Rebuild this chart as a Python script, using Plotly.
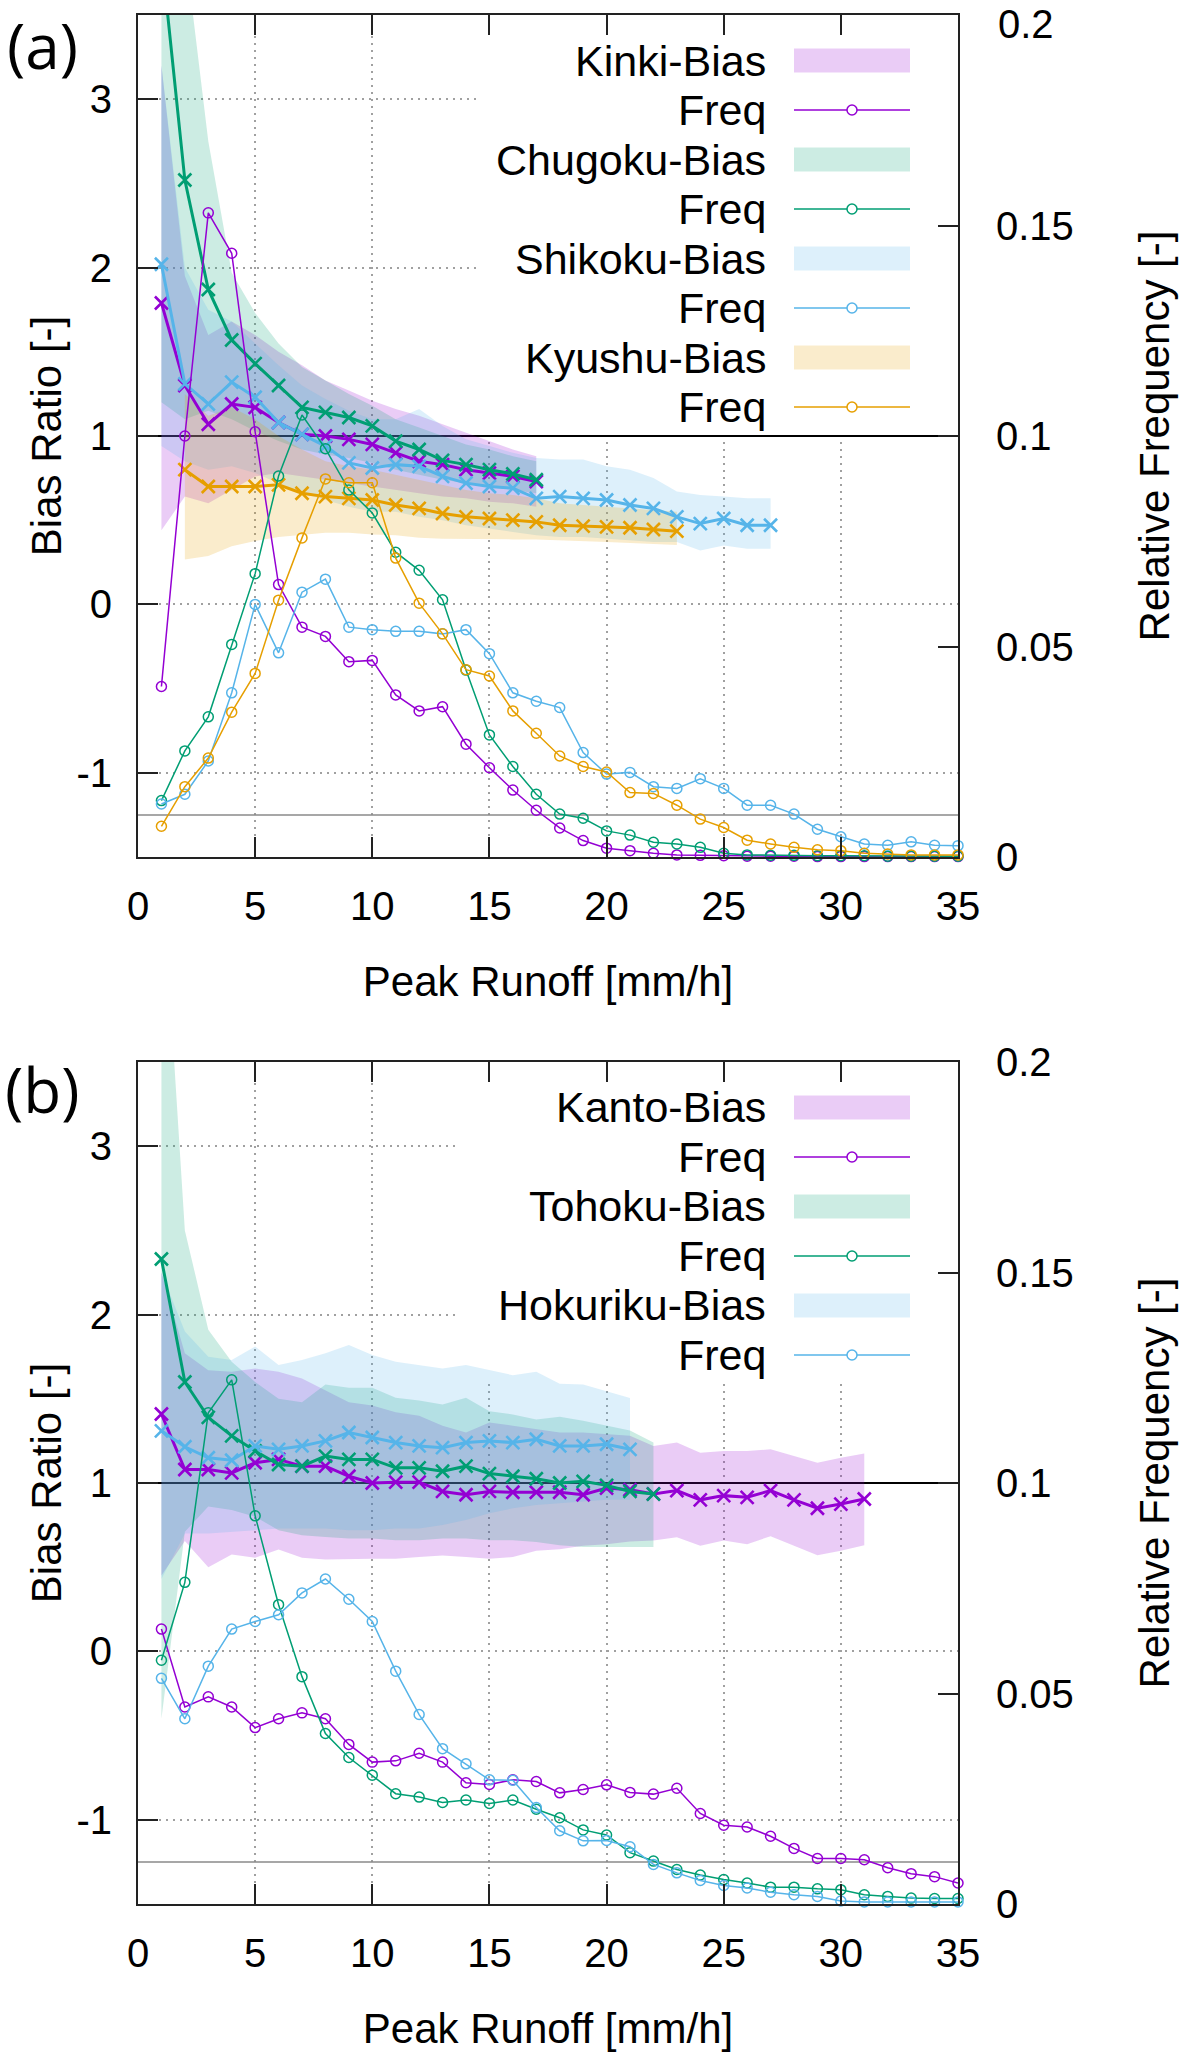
import plotly.graph_objects as go

# ---------------- data ----------------
X35 = list(range(1, 36))
XTICKS = [0, 5, 10, 15, 20, 25, 30, 35]
BIAS_TICKS = [-1, 0, 1, 2, 3]
BIAS_TICKTEXT = ["-1", "0", "1", "2", "3"]
FREQ_TICKS = [0, 0.05, 0.1, 0.15, 0.2]
FREQ_TICKTEXT = ["0", "0.05", "0.1", "0.15", "0.2"]

# Panel (a)
kinki_x = list(range(1, 18))
kinki_bias = [1.79, 1.30, 1.07, 1.19, 1.17, 1.08, 1.01, 1.00, 0.98, 0.95, 0.90, 0.85, 0.83, 0.80, 0.78, 0.76, 0.73]
kinki_hi = [3.2, 1.95, 1.6, 1.68, 1.6, 1.5, 1.42, 1.33, 1.27, 1.21, 1.16, 1.12, 1.07, 1.02, 0.97, 0.92, 0.88]
kinki_lo = [0.44, 0.64, 0.60, 0.68, 0.76, 0.78, 0.76, 0.74, 0.72, 0.70, 0.68, 0.66, 0.64, 0.63, 0.61, 0.60, 0.58]
kinki_freq = [0.0405, 0.100, 0.153, 0.1434, 0.101, 0.0647, 0.0546, 0.0524, 0.0464, 0.0467, 0.0385, 0.0347,
              0.0357, 0.0268, 0.0212, 0.0159, 0.0111, 0.0069, 0.0039, 0.0021, 0.0015, 0.0009, 0.0005, 0.0004,
              0.0003, 0.0002, 0.0002, 0.0002, 0.0001, 0.0001, 0.0001, 0.0001, 0.0001, 0.0001, 0.0001]

chugoku_x = list(range(1, 18))
chugoku_bias = [3.86, 2.52, 1.87, 1.57, 1.43, 1.30, 1.17, 1.14, 1.11, 1.06, 0.97, 0.92, 0.855, 0.83, 0.80, 0.775, 0.74]
chugoku_hi = [5.0, 3.9, 2.75, 1.97, 1.73, 1.55, 1.41, 1.33, 1.25, 1.18, 1.10, 1.05, 1.00, 0.95, 0.92, 0.88, 0.85]
chugoku_lo = [1.2, 1.1, 1.15, 1.1, 1.03, 0.97, 0.92, 0.89, 0.87, 0.84, 0.80, 0.77, 0.74, 0.72, 0.70, 0.68, 0.66]
chugoku_freq = [0.0134, 0.0252, 0.0333, 0.0505, 0.0673, 0.0905, 0.105, 0.097, 0.0872, 0.0817, 0.0724, 0.0681,
                0.0611, 0.0444, 0.029, 0.0215, 0.0149, 0.0102, 0.0092, 0.0062, 0.0052, 0.0035, 0.0031, 0.0023,
                0.0009, 0.0005, 0.0004, 0.0004, 0.0003, 0.0003, 0.0003, 0.0002, 0.0002, 0.0002, 0.0002]

shikoku_x = list(range(1, 28))
shikoku_bias = [2.02, 1.31, 1.19, 1.32, 1.23, 1.08, 1.01, 0.94, 0.84, 0.81, 0.83, 0.82, 0.76, 0.72, 0.70, 0.69,
                0.63, 0.64, 0.63, 0.62, 0.59, 0.57, 0.52, 0.48, 0.51, 0.47, 0.47]
shikoku_hi = [3.2, 2.0, 1.75, 1.68, 1.55, 1.42, 1.3, 1.22, 1.15, 1.1, 1.1, 1.16, 1.06, 0.98, 0.94, 0.9, 0.87,
              0.86, 0.86, 0.82, 0.8, 0.75, 0.67, 0.65, 0.64, 0.63, 0.63]
shikoku_lo = [0.94, 0.85, 0.8, 0.82, 0.78, 0.72, 0.66, 0.62, 0.58, 0.55, 0.55, 0.52, 0.5, 0.47, 0.45, 0.43, 0.41,
              0.40, 0.40, 0.39, 0.38, 0.37, 0.37, 0.32, 0.35, 0.33, 0.33]
shikoku_freq = [0.0126, 0.0149, 0.0228, 0.039, 0.06, 0.0485, 0.0629, 0.066, 0.0546, 0.054, 0.0536, 0.0536,
                0.053, 0.054, 0.0483, 0.039, 0.037, 0.0355, 0.0248, 0.0197, 0.0201, 0.0167, 0.0163, 0.0186,
                0.0163, 0.0123, 0.0123, 0.0102, 0.0066, 0.0048, 0.0031, 0.0028, 0.0036, 0.0028, 0.0027]

kyushu_x = list(range(2, 24))
kyushu_bias = [0.80, 0.70, 0.70, 0.70, 0.71, 0.66, 0.64, 0.63, 0.62, 0.59, 0.57, 0.54, 0.52, 0.51, 0.50, 0.49,
               0.47, 0.465, 0.46, 0.455, 0.445, 0.435]
kyushu_hi = [1.25, 1.12, 1.17, 1.10, 1.0, 0.92, 0.85, 0.82, 0.80, 0.77, 0.74, 0.71, 0.68, 0.66, 0.65, 0.63,
             0.60, 0.59, 0.58, 0.57, 0.56, 0.55]
kyushu_lo = [0.267, 0.287, 0.346, 0.376, 0.40, 0.415, 0.426, 0.426, 0.415, 0.41, 0.396, 0.39, 0.386, 0.386,
             0.386, 0.386, 0.38, 0.376, 0.37, 0.365, 0.36, 0.352]
kyushu_freq = [0.0073, 0.0167, 0.0235, 0.0344, 0.0436, 0.061, 0.0758, 0.0898, 0.0889, 0.0889, 0.071, 0.0603,
               0.053, 0.0445, 0.043, 0.0347, 0.0294, 0.024, 0.0215, 0.0202, 0.0153, 0.0151, 0.0123, 0.009,
               0.007, 0.004, 0.0031, 0.0023, 0.0017, 0.0015, 0.0009, 0.0007, 0.0005, 0.0005, 0.0005]

# Panel (b)
kanto_x = list(range(1, 32))
kanto_bias = [1.41, 1.08, 1.08, 1.06, 1.12, 1.14, 1.10, 1.10, 1.04, 1.00, 1.005, 1.005, 0.95, 0.93, 0.95, 0.945,
              0.945, 0.945, 0.93, 0.97, 0.96, 0.935, 0.955, 0.90, 0.925, 0.915, 0.955, 0.90, 0.85, 0.875, 0.905]
kanto_hi = [2.25, 1.77, 1.67, 1.66, 1.68, 1.66, 1.62, 1.55, 1.48, 1.46, 1.42, 1.40, 1.34, 1.30, 1.36, 1.34,
            1.32, 1.30, 1.30, 1.29, 1.28, 1.22, 1.24, 1.18, 1.19, 1.19, 1.20, 1.16, 1.12, 1.15, 1.175]
kanto_lo = [0.45, 0.655, 0.50, 0.576, 0.556, 0.605, 0.556, 0.546, 0.55, 0.55, 0.55, 0.56, 0.57, 0.56, 0.55, 0.56,
            0.597, 0.607, 0.627, 0.637, 0.652, 0.658, 0.678, 0.627, 0.658, 0.637, 0.684, 0.627, 0.571, 0.597, 0.631]
kanto_freq = [0.0653, 0.0468, 0.0492, 0.0468, 0.0419, 0.044, 0.0454, 0.044, 0.0379, 0.0337, 0.034, 0.0358,
              0.0337, 0.0288, 0.0284, 0.0295, 0.0291, 0.0264, 0.0272, 0.0283, 0.0265, 0.0261, 0.0275, 0.0215,
              0.0187, 0.0183, 0.0161, 0.0132, 0.0108, 0.0108, 0.0105, 0.0086, 0.0072, 0.0065, 0.005]

tohoku_x = list(range(1, 23))
tohoku_bias = [2.33, 1.60, 1.39, 1.28, 1.19, 1.11, 1.10, 1.16, 1.14, 1.14, 1.09, 1.09, 1.07, 1.10, 1.056, 1.04,
               1.025, 1.0, 1.01, 0.986, 0.95, 0.934]
tohoku_hi = [4.7, 2.5, 1.91, 1.72, 1.6, 1.5, 1.48, 1.585, 1.565, 1.565, 1.506, 1.49, 1.466, 1.506, 1.426, 1.407,
             1.377, 1.393, 1.37, 1.34, 1.312, 1.241]
tohoku_lo = [-0.4, 0.71, 0.86, 0.84, 0.80, 0.72, 0.69, 0.68, 0.67, 0.67, 0.66, 0.66, 0.67, 0.67, 0.66, 0.66,
             0.65, 0.63, 0.62, 0.62, 0.62, 0.62]
tohoku_freq = [0.0579, 0.0764, 0.1167, 0.1245, 0.0922, 0.0711, 0.054, 0.0405, 0.0348, 0.0306, 0.0262, 0.0254,
               0.0241, 0.0247, 0.0239, 0.0247, 0.0225, 0.0205, 0.0176, 0.0164, 0.0122, 0.0102, 0.0082, 0.0069,
               0.0058, 0.005, 0.004, 0.004, 0.0036, 0.0034, 0.0022, 0.0018, 0.0014, 0.0013, 0.0013]

hokuriku_x = list(range(1, 22))
hokuriku_bias = [1.31, 1.215, 1.15, 1.135, 1.22, 1.20, 1.22, 1.25, 1.30, 1.27, 1.24, 1.22, 1.21, 1.24, 1.25,
                 1.24, 1.26, 1.22, 1.22, 1.23, 1.20]
hokuriku_hi = [2.25, 1.9, 1.75, 1.73, 1.81, 1.70, 1.73, 1.77, 1.82, 1.76, 1.72, 1.70, 1.68, 1.70, 1.67, 1.64,
               1.66, 1.59, 1.585, 1.545, 1.505]
hokuriku_lo = [0.43, 0.70, 0.70, 0.71, 0.72, 0.73, 0.73, 0.73, 0.72, 0.72, 0.73, 0.73, 0.75, 0.78, 0.82, 0.85,
               0.87, 0.88, 0.89, 0.90, 0.90]
hokuriku_freq = [0.0536, 0.044, 0.0565, 0.0653, 0.0671, 0.0687, 0.0739, 0.0772, 0.0724, 0.0671, 0.0553, 0.045,
                 0.0369, 0.0333, 0.0295, 0.0294, 0.0229, 0.0174, 0.015, 0.0151, 0.0136, 0.0094, 0.0074, 0.0056,
                 0.0044, 0.0038, 0.0028, 0.0022, 0.0018, 0.0007, 0.0005, 0.0005, 0.0005, 0.0005, 0.0005]

# ---------------- styling ----------------
PURPLE, GREEN, BLUE, ORANGE = "#9400d3", "#009e73", "#56b4e9", "#e69f00"
FONT = "Liberation Sans, Arial, sans-serif"
FS = 40
TITLE_FS = 42
KEY_FS = 43
FRAME = "#222222"
GRID = "#a0a0a0"
X_RANGE = [0, 35]
BIAS_RANGE = [-1.5, 3.5]
FREQ_RANGE = [0, 0.2]


def rgba(hexc, a):
    h = hexc.lstrip("#")
    return "rgba(%d,%d,%d,%.3f)" % (int(h[0:2], 16), int(h[2:4], 16), int(h[4:6], 16), a)


panel_a = [
    ("Kinki", PURPLE, kinki_x, kinki_bias, kinki_lo, kinki_hi, kinki_freq),
    ("Chugoku", GREEN, chugoku_x, chugoku_bias, chugoku_lo, chugoku_hi, chugoku_freq),
    ("Shikoku", BLUE, shikoku_x, shikoku_bias, shikoku_lo, shikoku_hi, shikoku_freq),
    ("Kyushu", ORANGE, kyushu_x, kyushu_bias, kyushu_lo, kyushu_hi, kyushu_freq),
]
panel_b = [
    ("Kanto", PURPLE, kanto_x, kanto_bias, kanto_lo, kanto_hi, kanto_freq),
    ("Tohoku", GREEN, tohoku_x, tohoku_bias, tohoku_lo, tohoku_hi, tohoku_freq),
    ("Hokuriku", BLUE, hokuriku_x, hokuriku_bias, hokuriku_lo, hokuriku_hi, hokuriku_freq),
]

fig = go.Figure()


def add_panel(regions, xa, ya_bias, ya_freq):
    for name, col, xs, bias, lo, hi, freq in regions:
        fig.add_trace(go.Scatter(
            x=xs + xs[::-1], y=hi + lo[::-1], fill="toself", fillcolor=rgba(col, 0.2),
            mode="lines", line=dict(width=0, color="rgba(0,0,0,0)"),
            xaxis=xa, yaxis=ya_bias, showlegend=False, hoverinfo="skip", name=name + "-Bias"))
    for name, col, xs, bias, lo, hi, freq in regions:
        fig.add_trace(go.Scatter(
            x=xs, y=bias, mode="lines+markers",
            line=dict(color=col, width=3),
            marker=dict(symbol="x-thin", size=13, line=dict(width=2.6, color=col)),
            xaxis=xa, yaxis=ya_bias, showlegend=False, name=name + " bias"))
    for name, col, xs, bias, lo, hi, freq in regions:
        fig.add_trace(go.Scatter(
            x=X35, y=freq, mode="lines+markers",
            line=dict(color=col, width=1.5),
            marker=dict(symbol="circle-open", size=10, line=dict(width=1.5, color=col)),
            cliponaxis=False,
            xaxis=xa, yaxis=ya_freq, showlegend=False, name=name + " Freq"))


add_panel(panel_a, "x", "y", "y2")
add_panel(panel_b, "x2", "y3", "y4")

# ---------------- axes ----------------
PLOT_L, PLOT_R, PLOT_T, PLOT_B = 138, 223, 15, 151
PLOT_W = 1181 - PLOT_L - PLOT_R
H = 2055 - PLOT_T - PLOT_B
PANEL_H = 842
dom_a = [1 - PANEL_H / H, 1.0]
dom_b = [0.0, PANEL_H / H]

xcommon = dict(range=X_RANGE, tickvals=XTICKS, ticks="inside", ticklen=20, tickwidth=2, tickcolor=FRAME,
               showline=True, linecolor=FRAME, linewidth=2, mirror="ticks",
               showgrid=True, gridcolor=GRID, griddash="2px,5px", gridwidth=1.5, zeroline=False,
               tickfont=dict(family=FONT, size=FS, color="black"), ticklabelstandoff=13,
               ticklabeloverflow="allow",
               title=dict(text="Peak Runoff [mm/h]", font=dict(family=FONT, size=TITLE_FS, color="black"),
                          standoff=40),
               automargin=False, domain=[0, 1])
ycommon = dict(range=BIAS_RANGE, tickvals=BIAS_TICKS, ticktext=BIAS_TICKTEXT, ticks="inside", ticklen=20,
               tickwidth=2, tickcolor=FRAME, showline=True, linecolor=FRAME, linewidth=2, mirror=True,
               showgrid=True, gridcolor=GRID, griddash="2px,5px", gridwidth=1.5, zeroline=False,
               tickfont=dict(family=FONT, size=FS, color="black"), ticklabelstandoff=16,
               ticklabeloverflow="allow",
               title=dict(text="Bias Ratio [-]", font=dict(family=FONT, size=TITLE_FS, color="black"), standoff=2),
               automargin=False)
y2common = dict(range=FREQ_RANGE, tickvals=FREQ_TICKS, ticks="inside", ticklen=20,
                tickwidth=2, tickcolor=FRAME, showline=False, showgrid=False, zeroline=False, side="right",
                tickfont=dict(family=FONT, size=FS, color="black"), ticklabelstandoff=37,
                ticklabeloverflow="allow",
                title=dict(text="Relative Frequency [-]", font=dict(family=FONT, size=TITLE_FS, color="black"),
                           standoff=66),
                automargin=False)

# the topmost frequency label of panel (a) sits at the very top edge of the page;
# it is written as a slightly nudged annotation so that it stays inside the page
top_a_text = [t if v != FREQ_RANGE[1] else "" for v, t in zip(FREQ_TICKS, FREQ_TICKTEXT)]

fig.update_layout(
    xaxis=dict(xcommon, anchor="y"),
    yaxis=dict(ycommon, domain=dom_a, anchor="x"),
    yaxis2=dict(y2common, overlaying="y", anchor="x", ticktext=top_a_text),
    xaxis2=dict(xcommon, anchor="y3"),
    yaxis3=dict(ycommon, domain=dom_b, anchor="x2"),
    yaxis4=dict(y2common, overlaying="y3", anchor="x2", ticktext=FREQ_TICKTEXT),
)

# ---------------- key boxes, reference lines, labels ----------------
shapes = []
annotations = []


def px_to_x(px):
    return X_RANGE[0] + (px - PLOT_L) / PLOT_W * (X_RANGE[1] - X_RANGE[0])


def off_to_bias(off):
    return BIAS_RANGE[1] - off / PANEL_H * (BIAS_RANGE[1] - BIAS_RANGE[0])


def freq_to_bias(f):
    return BIAS_RANGE[0] + (f - FREQ_RANGE[0]) / (FREQ_RANGE[1] - FREQ_RANGE[0]) * (BIAS_RANGE[1] - BIAS_RANGE[0])


def decorate(regions, xr, yr, dom, box_left_px, label, label_y):
    xd, yd = xr + " domain", yr + " domain"
    n_rows = 2 * len(regions)
    box_bottom = 45.5 + 49.5 * (n_rows - 1) + 27
    # opaque key background hides the grid lines behind the key
    shapes.append(dict(type="rect", xref=xr, yref=yr, x0=px_to_x(box_left_px), x1=X_RANGE[1],
                       y0=off_to_bias(box_bottom), y1=BIAS_RANGE[1], fillcolor="white",
                       line=dict(width=0), layer="between"))
    # reference lines: bias ratio = 1 and relative frequency = 0.01
    shapes.append(dict(type="line", xref=xr, yref=yr, x0=X_RANGE[0], x1=X_RANGE[1], y0=1, y1=1,
                       line=dict(color="black", width=2), layer="between"))
    fb = freq_to_bias(0.01)
    shapes.append(dict(type="line", xref=xr, yref=yr, x0=X_RANGE[0], x1=X_RANGE[1], y0=fb, y1=fb,
                       line=dict(color="#8a8a8a", width=1.5), layer="between"))
    text_x = (768 - PLOT_L) / PLOT_W
    s0, s1 = (794 - PLOT_L) / PLOT_W, (910 - PLOT_L) / PLOT_W
    sc = (852 - PLOT_L) / PLOT_W
    dlo, dhi = dom
    for i, (name, col, *_rest) in enumerate(regions):
        for j, (txt, kind) in enumerate([(name + "-Bias", "band"), ("Freq", "line")]):
            off = 45.5 + 49.5 * (2 * i + j)
            yy = 1 - off / PANEL_H
            yc = dlo + yy * (dhi - dlo)
            annotations.append(dict(text=txt, xref=xd, yref=yd, x=text_x, y=yy, xanchor="right",
                                    yanchor="middle", showarrow=False,
                                    font=dict(family=FONT, size=KEY_FS, color="black")))
            if kind == "band":
                shapes.append(dict(type="rect", xref="paper", yref="paper", x0=s0, x1=s1,
                                   y0=yc - 12 / H, y1=yc + 12 / H, fillcolor=rgba(col, 0.2),
                                   line=dict(width=0), layer="above"))
            else:
                shapes.append(dict(type="line", xref="paper", yref="paper", x0=s0, x1=s1, y0=yc, y1=yc,
                                   line=dict(color=col, width=1.5), layer="above"))
                shapes.append(dict(type="circle", xref="paper", yref="paper", xsizemode="pixel",
                                   ysizemode="pixel", xanchor=sc, yanchor=yc, x0=-5, x1=5, y0=-5, y1=5,
                                   line=dict(color=col, width=1.5), fillcolor="white", layer="above"))
    annotations.append(dict(text=label, xref="paper", yref="paper", x=(42 - PLOT_L) / PLOT_W, y=label_y,
                            xanchor="center", yanchor="middle", showarrow=False,
                            font=dict(family="Open Sans, sans-serif", size=62, color="black")))


decorate(panel_a, "x", "y", dom_a, 478, "(a)", 1 - (45 - PLOT_T) / H)
decorate(panel_b, "x2", "y3", dom_b, 458, "(b)", 1 - (42 + 1047 - PLOT_T) / H)

# top frequency label of panel (a), kept just inside the page edge
annotations.append(dict(text=FREQ_TICKTEXT[-1], xref="paper", yref="paper",
                        x=(996 - PLOT_L) / PLOT_W, y=1 - (24 - PLOT_T) / H,
                        xanchor="left", yanchor="middle", showarrow=False,
                        font=dict(family=FONT, size=FS, color="black")))

fig.update_layout(
    shapes=shapes, annotations=annotations,
    width=1181, height=2055,
    margin=dict(l=PLOT_L, r=PLOT_R, t=PLOT_T, b=PLOT_B, pad=0),
    paper_bgcolor="white", plot_bgcolor="white",
    showlegend=False,
    font=dict(family=FONT, size=FS, color="black"),
)

# remove the browser's default 8px body margin so the figure sits at the page origin
fig.write_html("out.html", config={"displayModeBar": False},
               post_script="document.body.style.margin='0px';")
